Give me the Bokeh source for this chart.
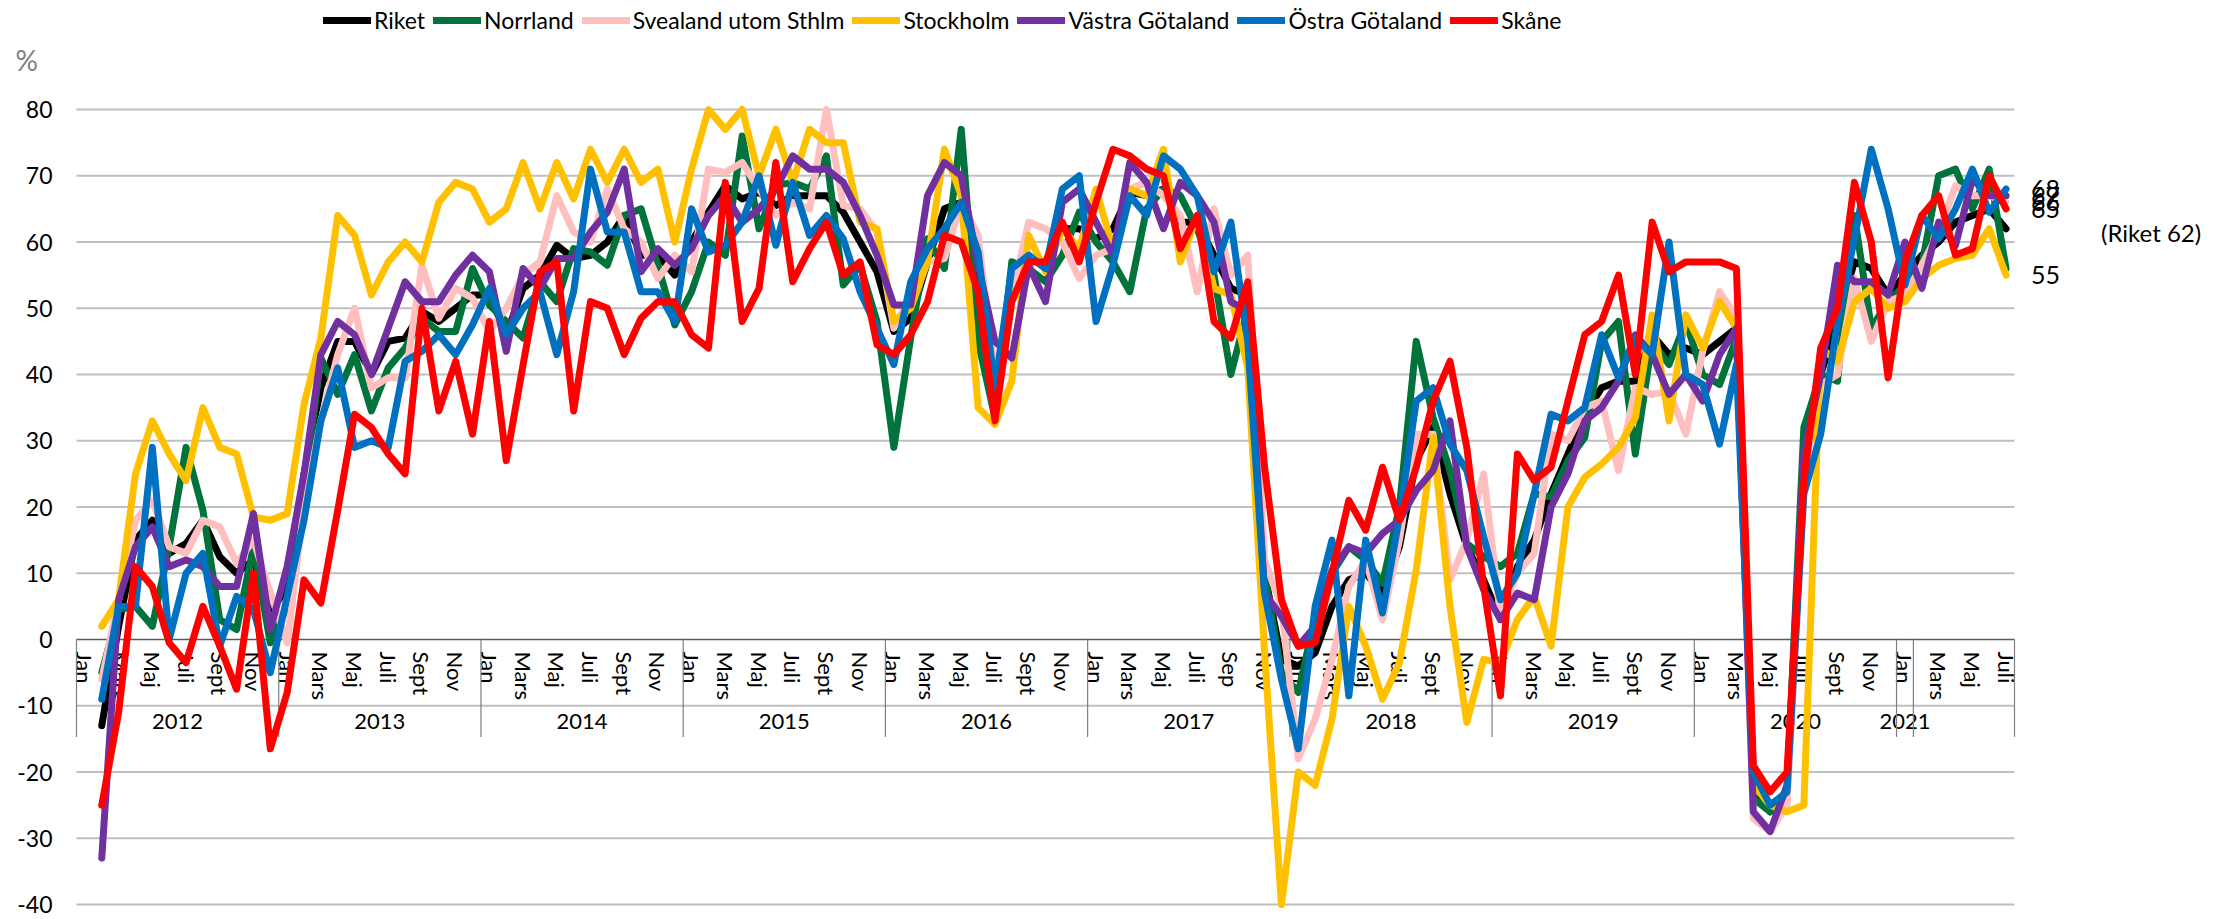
import math
import numpy as np
from bokeh.plotting import figure
from bokeh.models import (Range1d, FixedTicker, LinearAxis, Legend, LegendItem, Label)
from bokeh.embed import file_html
from bokeh.resources import INLINE

# ---------------- categories ----------------
MONTHS = ["Jan", "Feb", "Mars", "Apr", "Maj", "Jun", "Juli", "Aug", "Sept", "Okt", "Nov", "Dec"]
MONTHS_2017 = ["Jan", "Feb", "Mars", "Apr", "Maj", "Jun", "Juli", "Aug", "Sep", "Okt", "Nov", "Dec"]
SHOWN = ["Jan", "Mars", "Maj", "Juli", "Sept", "Sep", "Nov"]
year_labels = ["2012", "2013", "2014", "2015", "2016", "2017", "2018", "2019", "2020", "2021", ""]
year_sizes = [12, 12, 12, 12, 12, 12, 12, 12, 12, 1, 6]

months = []
for yl, n_ in zip(year_labels, year_sizes):
    if yl == "2017":
        months += MONTHS_2017
    elif yl == "2021":
        months += MONTHS[:1]
    elif yl == "":
        months += MONTHS[1:7]
    else:
        months += MONTHS

# ---------------- series (Jan 2012 .. Juli 2021) ----------------
riket = [
    None, -13, 2, 15, 18, 13, 14.5, 18, 12.5, 10, 12, 4,
    8, 25, 38, 45, 45, 40, 45, 45.5, 49.5, 48, 50, 52,
    52, 46, 53, 55, 59.5, 57.5, 58, 60, 64, 58, 58, 55,
    60, 64.5, 68.5, 66.5, 67.5, 65.5, 67, 67, 67, 64.5, 60, 55.5,
    46.5, 48.5, 57, 65, 66, 55, 36, 52, 58, 56, 62, 62,
    60.5, 62, 67.5, 67, 68, 63, 63, 58, 53, 52, 10, -3,
    -4, -2, 5, 9, 10, 7, 14, 27, 32, 22, 14, 9,
    3, 11, 15, 22, 28, 34, 38, 39, 39, 46, 43, 44,
    43, 45, 47, -22, -26, -23, 25, 40, 48, 57, 56, 52,
    55, 58, 60, 63, 64, 65, 62,
]
norrland = [
    None, -5, 4.5, 5, 2, 14, 29, 19.5, 3, 1.5, 14, -0.5,
    5, 22, 42.5, 37, 43, 34.5, 41, 44, 48.5, 46.5, 46.5, 56,
    50.5, 48, 45.5, 54, 51, 59, 58.5, 56.5, 64, 65, 56.5, 47.5,
    52.5, 60, 58, 76, 62, 68.5, 69, 68, 73, 53.5, 56.5, 48,
    29, 45.5, 60.5, 56, 77, 45, 33.5, 57, 56, 54, 58, 64.5,
    60, 57, 52.5, 65, 68, 67, 62, 55, 40, 50, 10, -5,
    -8, 3.5, 10, 14, 12, 8.5, 20, 45, 33.5, 25.5, 14.5, 12.5,
    11, 13, 22, 21.5, 27, 30.5, 45, 48, 28, 45, 41.5, 48,
    40, 38.5, 45.5, -24, -26, -23, 32, 40, 39, 64, 47, 51,
    53.5, 56.5, 70, 71, 65, 71, 56,
]
svealand = [
    None, -6, 6, 18, 21, 14, 13, 18, 17, 11.5, 15, 7,
    -0.5, 20, 33, 43, 50, 38, 39.5, 39.5, 56.5, 48.5, 53, 51.5,
    46.5, 50, 55, 57, 67, 61.5, 60, 68, 62, 60, 54.5, 58,
    55.5, 71, 70.5, 72, 68, 64, 66, 65, 80, 65.5, 65, 61.5,
    47, 52, 57, 57.5, 66, 61, 40, 52, 63, 62, 60, 54.5,
    58, 59, 68, 69, 67, 64, 52.5, 65, 55, 58, 12, 5,
    -18, -12, -3, 8, 12, 3, 15, 31, 31, 9, 15, 25,
    3.5, 10, 13, 31, 30, 35, 36, 25.5, 38, 37, 37.5, 31,
    43.5, 52.5, 48.5, -27, -29, -25, 25, 38.5, 40, 54.5, 45, 51,
    52, 56.5, 61.5, 68.5, 67, 67, 66,
]
stockholm = [
    None, 2, 6, 25, 33, 28, 24, 35, 29, 28, 18.5, 18,
    19, 35.5, 45.5, 64, 61, 52, 57, 60, 57, 66, 69, 68,
    63, 65, 72, 65, 72, 66.5, 74, 69, 74, 69, 71, 60,
    71, 80, 77, 80, 70, 77, 69, 77, 75, 75, 63, 62,
    48, 50, 57, 74, 67, 35, 32.5, 39, 61, 55.5, 62, 59,
    68, 59, 68, 67, 74, 57, 64, 53, 52, 41, -2, -40,
    -20, -22, -12, 5, -1, -9, -3.5, 10.5, 30.5, 5, -12.5, -3,
    -3.5, 3, 6.5, -1, 20, 24.5, 26.5, 29, 33.5, 49, 33, 49,
    44, 51, 47, -22, -25, -26, -25, 44, 42, 51, 53, 50,
    51, 54.5, 56.5, 57.5, 58, 62, 55,
]
vastra = [
    None, -33, 6, 14, 17, 11, 12, 11, 8, 8, 19, 1.5,
    11, 25, 43, 48, 46, 40, 47, 54, 51, 51, 55, 58,
    55.5, 43.5, 56, 53, 57.5, 57.5, 61.5, 64.5, 71, 55.5, 59, 56.5,
    59, 64, 67, 63, 65, 68, 73, 71, 71, 69, 64, 58,
    50.5, 50.5, 67, 72, 70, 56.5, 45, 42.5, 56.5, 51, 66, 68,
    63, 58, 72, 69, 62, 69, 67, 63, 51, 49.5, 7, 3.5,
    -1, 2, 10.5, 14, 13, 16, 18, 22.5, 25.5, 33, 14, 7.5,
    3, 7, 6, 20, 25, 33, 35, 39, 46, 43, 37, 40,
    36, 43, 47, -26, -29, -22, 28, 40, 56.5, 54, 54, 52,
    60, 53, 63, 59.5, 69.5, 67, 67,
]
ostra = [
    None, -9, 5, 5, 29, 0, 10, 13, -1, 6.5, 4.5, -5,
    6.5, 18, 33, 41, 29, 30, 29, 42, 43.5, 46, 43, 47.5,
    53, 46, 50, 52.5, 43, 52.5, 71, 61.5, 61.5, 52.5, 52.5, 48,
    65, 58.5, 59.5, 63, 70, 59.5, 69, 61, 64, 60.5, 52.5, 47,
    41.5, 54, 59, 62, 66, 58.5, 38, 56, 58, 56, 68, 70,
    48, 56.5, 67, 64, 73, 71, 67, 55.5, 63, 45, 7, -6,
    -16.5, 5, 15, -8.5, 15, 4, 18.5, 36, 38, 29.5, 25.5, 15.5,
    6, 10, 22, 34, 33, 35, 46, 39.5, 45.5, 43, 60, 40,
    38.5, 29.5, 41.5, -20, -25, -23, 22, 31, 48, 60.5, 74, 65,
    53.5, 64, 60.5, 65, 71, 64.5, 68,
]
skane = [
    None, -25, -11, 11, 8, -0.5, -3.5, 5, -1, -7.5, 10, -16.5,
    -8, 9, 5.5, 19.5, 34, 32, 28, 25, 50, 34.5, 42, 31,
    48, 27, 41.5, 55.5, 57, 34.5, 51, 50, 43, 48.5, 51, 51,
    46, 44, 69, 48, 53, 72, 54, 59, 63, 55, 57, 44.5,
    43, 46, 51, 61, 60, 52.5, 33, 51, 57, 57, 63, 57,
    66, 74, 73, 71, 70, 59, 64, 48, 45.5, 54, 26, 6,
    -1, -0.5, 10, 21, 16.5, 26, 18, 26, 36, 42, 29, 8,
    -8.5, 28, 24, 26, 36, 46, 48, 55, 40, 63, 55.5, 57,
    57, 57, 56, -19, -23, -20, 24, 44, 50, 69, 60, 39.5,
    57, 64, 67, 58, 59, 70, 65,
]

series_names = ["Riket", "Norrland", "Svealand utom Sthlm", "Stockholm",
                "Västra Götaland", "Östra Götaland", "Skåne"]
series_values = [riket, norrland, svealand, stockholm, vastra, ostra, skane]
series_colors = ["#000000", "#00733C", "#FFBFBF", "#FFC000", "#7030A0", "#0070C0", "#FF0000"]
end_labelled = ["Östra Götaland", "Västra Götaland", "Svealand utom Sthlm", "Skåne", "Stockholm"]

y_ticks = list(range(-40, 81, 10))

for s in series_values:
    assert len(s) == len(months), (len(s), len(months))

FONT = "Lato"
n = len(months)
x = np.arange(n)

# ---------------- layout (pixels) ----------------
W, H = 2220, 919
PX_L, PX_R = 76, 2014      # x pixels of the category band edges
PX_T, PX_B = 109, 904      # y pixels of 80 and -40
ymin, ymax = -40, 80
xppu = (PX_R - PX_L) / n
yppu = (PX_B - PX_T) / (ymax - ymin)
x_range = Range1d(-0.5 - PX_L / xppu, n - 0.5 + (W - PX_R) / xppu)
y_range = Range1d(ymin - (H - PX_B) / yppu, ymax + PX_T / yppu)

p = figure(width=W, height=H, x_range=x_range, y_range=y_range,
           output_backend="svg", toolbar_location=None, min_border=0)
p.outline_line_color = None
p.background_fill_color = "white"
p.border_fill_color = "white"
p.xgrid.visible = False
p.ygrid.visible = False

# horizontal grid lines over the category band only
grid_vals = [t for t in y_ticks if t != 0]
p.segment(x0=[-0.5] * len(grid_vals), y0=grid_vals, x1=[n - 0.5] * len(grid_vals), y1=grid_vals,
          line_color="#BFBFBF", line_width=2, level="underlay")

# y axis (inside the canvas at the left edge of the category band)
ya = p.yaxis[0]
ya.fixed_location = -0.5
ya.ticker = FixedTicker(ticks=y_ticks)
ya.major_label_overrides = {t: str(t) for t in y_ticks}
ya.axis_line_color = None
ya.major_tick_line_color = None
ya.minor_tick_line_color = None
ya.major_tick_out = 0
ya.major_tick_in = 0
ya.major_label_standoff = 24
ya.major_label_text_font = FONT
ya.major_label_text_font_size = "23px"
ya.major_label_text_color = "black"

# month axis at y = 0
month_ticks = [i for i, m in enumerate(months) if m in SHOWN]
xa = p.xaxis[0]
xa.fixed_location = 0
xa.bounds = (-0.5, n - 0.5)
xa.ticker = FixedTicker(ticks=month_ticks)
xa.major_label_overrides = {i: months[i] for i in month_ticks}
xa.major_label_orientation = -math.pi / 2
xa.major_label_standoff = 12
xa.major_tick_line_color = None
xa.minor_tick_line_color = None
xa.major_tick_out = 0
xa.major_tick_in = 0
xa.axis_line_color = "#595959"
xa.axis_line_width = 1.5
xa.major_label_text_font = FONT
xa.major_label_text_font_size = "22px"
xa.major_label_text_color = "black"
xa.level = "underlay"

# year axis
bounds = np.cumsum([0] + year_sizes) - 0.5
centers = [(bounds[k] + bounds[k + 1]) / 2 for k in range(len(year_sizes))]
year_ticks = [float(c) for c, yl in zip(centers, year_labels) if yl]
yax = LinearAxis(fixed_location=-10,
                 ticker=FixedTicker(ticks=year_ticks),
                 major_label_overrides={float(c): yl for c, yl in zip(centers, year_labels) if yl},
                 axis_line_color=None, major_tick_line_color=None, minor_tick_line_color=None,
                 major_tick_out=0, major_tick_in=0, major_label_standoff=8,
                 major_label_text_font=FONT, major_label_text_font_size="22px",
                 major_label_text_color="black", level="underlay")
p.add_layout(yax, "below")

# category separators
p.segment(x0=bounds, y0=[0] * len(bounds), x1=bounds, y1=[-14.7] * len(bounds),
          line_color="#7F7F7F", line_width=1.2)

# lines
items = []
for name, vals, col in zip(series_names, series_values, series_colors):
    yv = np.array([np.nan if v is None else v for v in vals], dtype=float)
    r = p.line(x, yv, line_color=col, line_width=7, line_join="round", line_cap="round")
    items.append(LegendItem(label=name, renderers=[r]))

legend = Legend(items=items, orientation="horizontal", location=(323, H - 8 - 26),
                glyph_width=48, glyph_height=26, label_standoff=3, spacing=8,
                padding=0, margin=0, border_line_color=None, background_fill_alpha=0,
                label_text_font=FONT, label_text_font_size="23px", label_text_color="black")
p.add_layout(legend, "center")

# end labels
for name, vals in zip(series_names, series_values):
    if name in end_labelled:
        p.add_layout(Label(x=n - 1, y=vals[-1], x_offset=25, text=f"{vals[-1]:g}",
                           text_baseline="middle", text_font=FONT, text_font_size="25px",
                           text_color="black"))
p.add_layout(Label(x=n - 1, y=riket[-1], x_offset=95, y_offset=-4, text=f"(Riket {riket[-1]:g})",
                   text_baseline="middle", text_font=FONT, text_font_size="24px", text_color="black"))

# unit label
p.add_layout(Label(x=-0.5, y=ymax, x_offset=-61, y_offset=67, text="%", text_baseline="top",
                   text_font=FONT, text_font_size="28px", text_color="#808080"))

open("out.html", "w").write(file_html(p, INLINE))
